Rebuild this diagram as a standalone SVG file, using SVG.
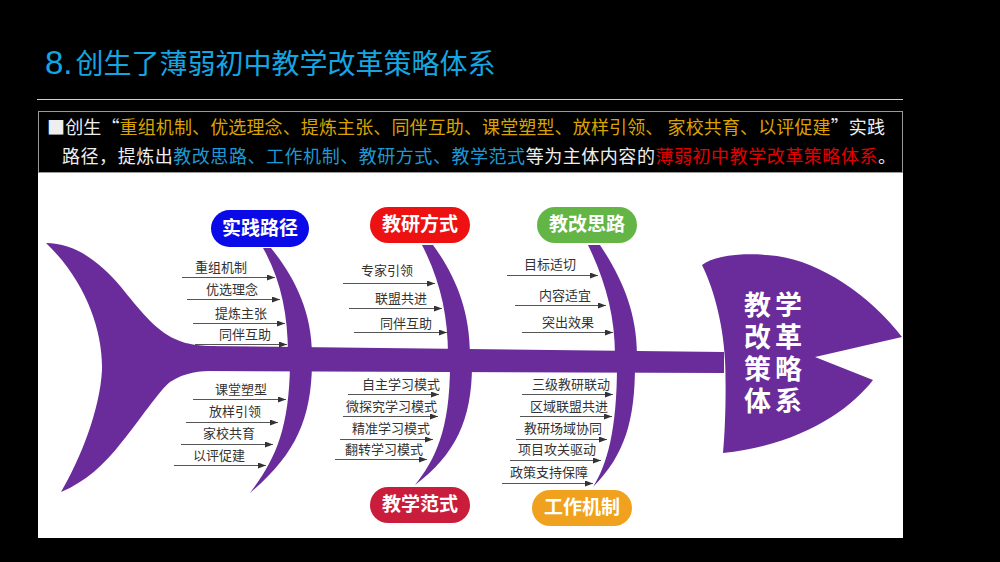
<svg xmlns="http://www.w3.org/2000/svg" width="1000" height="562" viewBox="0 0 1000 562">
<defs>
<marker id="ah" viewBox="0 0 8 6" refX="8" refY="3" markerWidth="8" markerHeight="6" markerUnits="userSpaceOnUse" orient="auto">
<path d="M0,0 L8,3 L0,6 Z" fill="#333"/>
</marker>
<style>
.fish{fill:#6a2c9b}
.lbl{font-family:"Noto Sans CJK SC","Noto Sans",sans-serif;font-size:13px;fill:#333}
.arr{stroke:#555;stroke-width:1;fill:none;marker-end:url(#ah)}
.pill{font-family:"Noto Sans CJK SC",sans-serif;font-size:19px;font-weight:bold;fill:#fff;text-anchor:middle}
.head{font-family:"Noto Sans CJK SC",sans-serif;font-size:27px;font-weight:bold;fill:#fff}
.intro{font-family:"Noto Sans CJK SC",sans-serif;font-size:18px;fill:#eeeeee}
.gold{fill:#d9a300}
.blue{fill:#1b9ad6}
.red{fill:#e30000}
</style>
</defs>
<rect x="0" y="0" width="1000" height="562" fill="#000"/>
<g id="title">
<text x="45" y="74" font-family="'Noto Sans CJK SC',sans-serif" font-size="28" fill="#13a6e2"><tspan font-family="'Liberation Sans',sans-serif" font-size="33">8.</tspan><tspan dx="3">创生了薄弱初中教学改革策略体系</tspan></text>
</g>
<line x1="37" y1="99.5" x2="903" y2="99.5" stroke="#cfcfcf" stroke-width="1"/>
<g id="intro">
<rect x="38.5" y="111.5" width="864" height="61" fill="#000" stroke="#9a9a9a" stroke-width="1"/>
<text class="intro" x="47" y="134" textLength="838" lengthAdjust="spacing">■创生“<tspan class="gold">重组机制、优选理念、提炼主张、同伴互助、课堂塑型、放样引领、 家校共育、以评促建</tspan>”实践</text>
<text class="intro" x="62" y="163" textLength="834" lengthAdjust="spacing">路径，提炼出<tspan class="blue">教改思路、工作机制、教研方式、教学范式</tspan>等为主体内容的<tspan class="red">薄弱初中教学改革策略体系</tspan>。</text>
</g>
<rect x="38" y="173" width="865" height="365" fill="#fff"/>
<g id="fish">
<path class="fish" d="M46,243 C75,243 100,262 121,287 C138,308 155,330 175,339 C188,345 200,346 215,346 L215,371 C200,371 185,372 170,382 C158,392 140,420 121,443 C105,464 85,482 61,492 C80,460 100,410 102,370 C103,330 85,280 46,243 Z"/>
<path class="fish" d="M205,346 L724,352 L724,373 L205,371 Z"/>
<path class="fish" d="M702,265 C715,255 745,252 777,256 C820,262 870,295 902,337 L815,357 L873,380 C850,410 800,445 723,453 C726,420 726,380 725,360 C723,320 712,285 702,265 Z"/>
<path class="fish" d="M263,248 L271,248 C293,275 312,310 312,355 L288,355 C288,312 280,278 263,248 Z"/>
<path class="fish" d="M290,365 L312,365 C311,420 295,455 250,493 C275,460 289,430 290,365 Z"/>
<path class="fish" d="M422,245 L433,245 C455,275 470,310 470,355 L448,355 C448,315 440,280 422,245 Z"/>
<path class="fish" d="M450,365 L472,365 C472,420 455,455 415,485 C435,460 450,430 450,365 Z"/>
<path class="fish" d="M588,245 L600,245 C620,275 637,310 637,355 L615,355 C615,315 605,280 588,245 Z"/>
<path class="fish" d="M617,365 L635,365 C635,420 625,455 593,487 C607,465 617,430 617,365 Z"/>
</g>
<g id="head-text">
<text class="head" x="744 744 744 744" y="315 347 379 411">教改策体</text>
<text class="head" x="775 775 775 775" y="315 347 379 411">学革略系</text>
</g>
<g id="pill-shijian"><rect x="211" y="210" width="98" height="37" rx="18.5" fill="#0a0ae8"/><text class="pill" x="260" y="235">实践路径</text></g>
<g id="pill-jiaoyan"><rect x="370" y="207" width="100" height="36" rx="18" fill="#ee1111"/><text class="pill" x="420" y="231">教研方式</text></g>
<g id="pill-jiaogai"><rect x="537" y="207" width="100" height="36" rx="18" fill="#63b546"/><text class="pill" x="587" y="231">教改思路</text></g>
<g id="pill-jiaoxue"><rect x="370" y="487" width="100" height="36" rx="18" fill="#c91d3b"/><text class="pill" x="420" y="511">教学范式</text></g>
<g id="pill-gongzuo"><rect x="532" y="490" width="100" height="36" rx="18" fill="#f0a21e"/><text class="pill" x="582" y="514">工作机制</text></g>
<g id="labels">
<g id="l1"><text class="lbl" x="195" y="272">重组机制</text></g>
<g id="l2"><text class="lbl" x="206" y="294">优选理念</text></g>
<g id="l3"><text class="lbl" x="215" y="318">提炼主张</text></g>
<g id="l4"><text class="lbl" x="219" y="339">同伴互助</text></g>
<g id="l5"><text class="lbl" x="215" y="394">课堂塑型</text></g>
<g id="l6"><text class="lbl" x="209" y="416">放样引领</text></g>
<g id="l7"><text class="lbl" x="203" y="438">家校共育</text></g>
<g id="l8"><text class="lbl" x="193" y="460">以评促建</text></g>
<g id="l9"><text class="lbl" x="361" y="275">专家引领</text></g>
<g id="l10"><text class="lbl" x="375" y="303">联盟共进</text></g>
<g id="l11"><text class="lbl" x="380" y="328">同伴互助</text></g>
<g id="l12"><text class="lbl" x="524" y="269">目标适切</text></g>
<g id="l13"><text class="lbl" x="539" y="300">内容适宜</text></g>
<g id="l14"><text class="lbl" x="542" y="327">突出效果</text></g>
<g id="l15"><text class="lbl" x="362" y="389">自主学习模式</text></g>
<g id="l16"><text class="lbl" x="346" y="411">微探究学习模式</text></g>
<g id="l17"><text class="lbl" x="352" y="433">精准学习模式</text></g>
<g id="l18"><text class="lbl" x="345" y="454">翻转学习模式</text></g>
<g id="l19"><text class="lbl" x="532" y="389">三级教研联动</text></g>
<g id="l20"><text class="lbl" x="530" y="411">区域联盟共进</text></g>
<g id="l21"><text class="lbl" x="524" y="433">教研场域协同</text></g>
<g id="l22"><text class="lbl" x="518" y="454">项目攻关驱动</text></g>
<g id="l23"><text class="lbl" x="510" y="477">政策支持保障</text></g>
</g>
<g id="connectors">
<line class="arr" x1="182" y1="277.5" x2="275" y2="277.5"/>
<line class="arr" x1="187" y1="299.5" x2="280" y2="299.5"/>
<line class="arr" x1="193" y1="323.5" x2="285" y2="323.5"/>
<line class="arr" x1="195" y1="344.5" x2="287" y2="344.5"/>
<line class="arr" x1="193" y1="399.5" x2="286" y2="399.5"/>
<line class="arr" x1="186" y1="422.5" x2="278" y2="422.5"/>
<line class="arr" x1="181" y1="444.5" x2="273" y2="444.5"/>
<line class="arr" x1="174" y1="465.5" x2="266" y2="465.5"/>
<line class="arr" x1="343" y1="283.5" x2="435" y2="283.5"/>
<line class="arr" x1="349" y1="308.5" x2="442" y2="308.5"/>
<line class="arr" x1="354" y1="332.5" x2="447" y2="332.5"/>
<line class="arr" x1="507" y1="275.5" x2="598" y2="275.5"/>
<line class="arr" x1="515" y1="305.5" x2="606" y2="305.5"/>
<line class="arr" x1="522" y1="332.5" x2="613" y2="332.5"/>
<line class="arr" x1="348" y1="394.5" x2="439" y2="394.5"/>
<line class="arr" x1="343" y1="416.5" x2="438" y2="416.5"/>
<line class="arr" x1="340" y1="439.5" x2="433" y2="439.5"/>
<line class="arr" x1="335" y1="459.5" x2="427" y2="459.5"/>
<line class="arr" x1="522" y1="394.5" x2="613" y2="394.5"/>
<line class="arr" x1="520" y1="416.5" x2="612" y2="416.5"/>
<line class="arr" x1="516" y1="439.5" x2="607" y2="439.5"/>
<line class="arr" x1="510" y1="460.5" x2="601" y2="460.5"/>
<line class="arr" x1="502" y1="483.5" x2="593" y2="483.5"/>
</g>
</svg>
